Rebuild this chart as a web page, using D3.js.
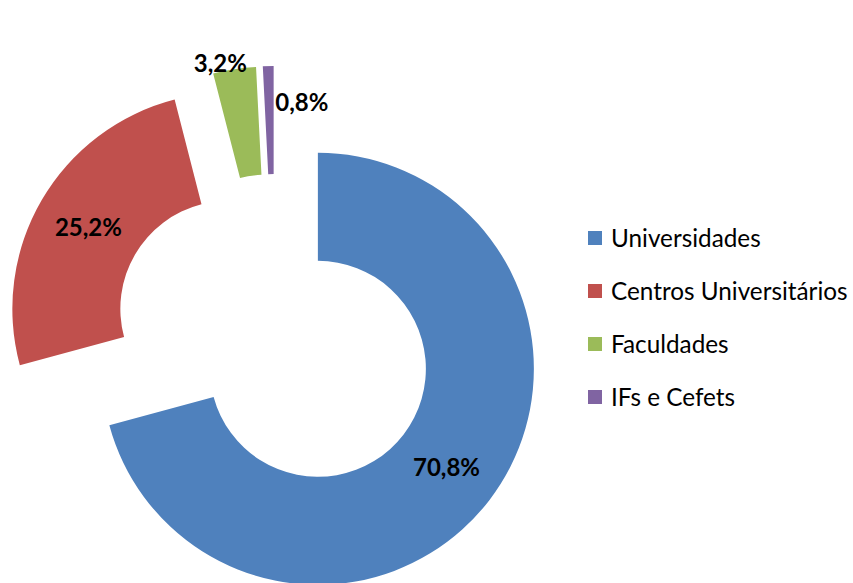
<!DOCTYPE html>
<html>
<head>
<meta charset="utf-8">
<script src="https://cdn.jsdelivr.net/npm/d3@7"></script>
<style>
  body { margin: 0; background: #fff; }
  svg { display: block; }
  text { font-family: Lato, "Open Sans", sans-serif; }
</style>
</head>
<body>
<div id="chart"></div>
<script>
// data
const categories = ["Universidades", "Centros Universitários", "Faculdades", "IFs e Cefets"];
const values = [70.8, 25.2, 3.2, 0.8];
const labels = ["70,8%", "25,2%", "3,2%", "0,8%"];
const colors = ["#4F81BD", "#C0504D", "#9BBB59", "#8064A2"];

// chart setup
var width = 853,
    height = 583;

var cx = 275, cy = 336,
    outerR = 216,
    innerR = 108,
    explode = 54; // every slice pulled out along its bisector

// label placement: angle (deg, null = bisector) and radius as fraction of outerR
var labelPlace = [
  [null, 0.75],
  [null, 0.75],
  [348, 1.037],
  [8.9, 0.842]
];

var svg = d3.select("#chart")
  .append("svg")
    .attr("width", width)
    .attr("height", height);

var g = svg.append("g")
    .attr("transform", "translate(" + cx + "," + cy + ")");

var pie = d3.pie()
  .sort(null)
  .value(function(d) { return d; });

var arc = d3.arc()
  .outerRadius(outerR)
  .innerRadius(innerR);

var arcs = pie(values);

function offsetOf(d) {
  var mid = (d.startAngle + d.endAngle) / 2;
  return [Math.sin(mid) * explode, -Math.cos(mid) * explode];
}

var slices = g.selectAll(".slice")
  .data(arcs)
  .enter()
  .append("g")
    .attr("class", "slice")
    .attr("transform", function(d) {
      var o = offsetOf(d);
      return "translate(" + o[0] + "," + o[1] + ")";
    });

slices.append("path")
  .attr("d", arc)
  .style("fill", function(d, i) { return colors[i]; });

// percentage labels
slices.append("text")
  .attr("transform", function(d, i) {
    var p = labelPlace[i];
    var a = p[0] === null ? (d.startAngle + d.endAngle) / 2 : p[0] * Math.PI / 180;
    var r = p[1] * outerR;
    return "translate(" + (Math.sin(a) * r) + "," + (-Math.cos(a) * r) + ")";
  })
  .attr("text-anchor", "middle")
  .attr("dy", "0.36em")
  .attr("font-size", "24px")
  .attr("font-weight", "bold")
  .style("fill", "#000")
  .text(function(d, i) { return labels[i]; });

// legend
var legend = svg.append("g")
  .attr("transform", "translate(588,238)");

var rows = legend.selectAll(".row")
  .data(categories)
  .enter()
  .append("g")
    .attr("class", "row")
    .attr("transform", function(d, i) { return "translate(0," + (i * 53) + ")"; });

rows.append("rect")
  .attr("x", 0)
  .attr("y", -7)
  .attr("width", 14)
  .attr("height", 14)
  .style("fill", function(d, i) { return colors[i]; });

rows.append("text")
  .attr("x", 23)
  .attr("dy", "0.36em")
  .attr("font-size", "24.3px")
  .style("fill", "#000")
  .text(function(d) { return d; });
</script>
</body>
</html>
